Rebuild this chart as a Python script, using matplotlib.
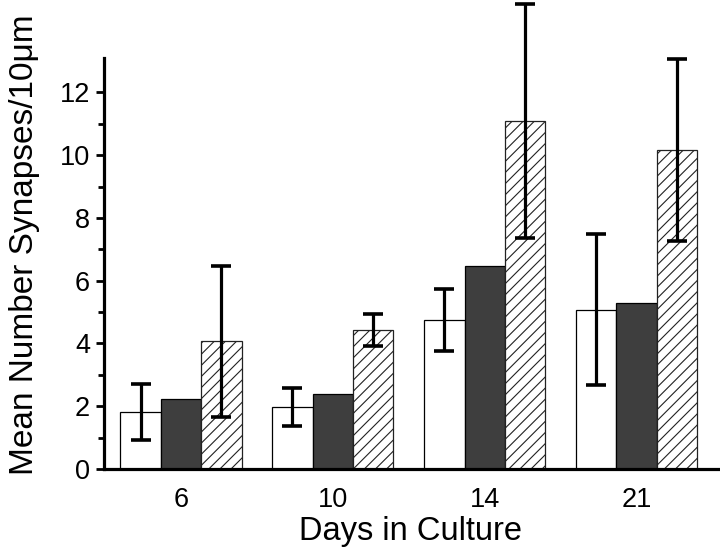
import matplotlib
matplotlib.use("Agg")
import matplotlib.pyplot as plt
import numpy as np

plt.rcParams['font.family'] = ['Liberation Sans', 'DejaVu Sans']
plt.rcParams['hatch.linewidth'] = 0.8

days = ["6", "10", "14", "21"]
white_vals = [1.82, 1.98, 4.75, 5.08]
white_err = [0.90, 0.60, 1.00, 2.40]
dark_vals = [2.24, 2.40, 6.46, 5.28]
hatch_vals = [4.07, 4.43, 11.08, 10.15]
hatch_err = [2.40, 0.50, 3.72, 2.90]

fig = plt.figure(figsize=(7.2, 5.56), dpi=100)
ax = fig.add_axes([0.1444, 0.1565, 0.8526, 0.7395])

x = np.arange(len(days))
w = 0.266

ax.bar(x - w, white_vals, width=w, color='white', edgecolor='black', linewidth=0.9, zorder=2)
ax.bar(x, dark_vals, width=w, color='#3e3e3e', edgecolor='black', linewidth=0.9, zorder=2)
ax.bar(x + w, hatch_vals, width=w, color='white', edgecolor='#222222', hatch='///', linewidth=0.9, zorder=2)

eb_kw = dict(fmt='none', ecolor='black', elinewidth=2.3, capsize=7, capthick=2.6, zorder=3, clip_on=False)
e1 = ax.errorbar(x - w, white_vals, yerr=white_err, **eb_kw)
e2 = ax.errorbar(x + w, hatch_vals, yerr=hatch_err, **eb_kw)
for eb in (e1, e2):
    for art in eb.lines[1] + eb.lines[2]:
        art.set_clip_on(False)

ax.set_xlim(-0.507, 3.535)
ax.set_ylim(0, 13.1)
ax.set_xticks(x)
ax.set_xticklabels(days)
ax.set_yticks(np.arange(0, 13, 2))
ax.set_yticks(np.arange(1, 13, 2), minor=True)

for s in ['top', 'right']:
    ax.spines[s].set_visible(False)
ax.spines['left'].set_linewidth(2.3)
ax.spines['bottom'].set_linewidth(2.3)

ax.tick_params(axis='y', which='major', direction='out', length=6, width=2.0, labelsize=19.5, pad=4)
ax.tick_params(axis='y', which='minor', direction='out', length=4.5, width=2.0)
ax.tick_params(axis='x', which='major', length=0, labelsize=19.5, pad=13)

ax.set_xlabel("Days in Culture", fontsize=23.5, labelpad=2)
ax.set_ylabel("Mean Number Synapses/10μm", fontsize=24)
ax.yaxis.set_label_coords(-0.105, 0.545)

fig.savefig("out.png", dpi=100)
